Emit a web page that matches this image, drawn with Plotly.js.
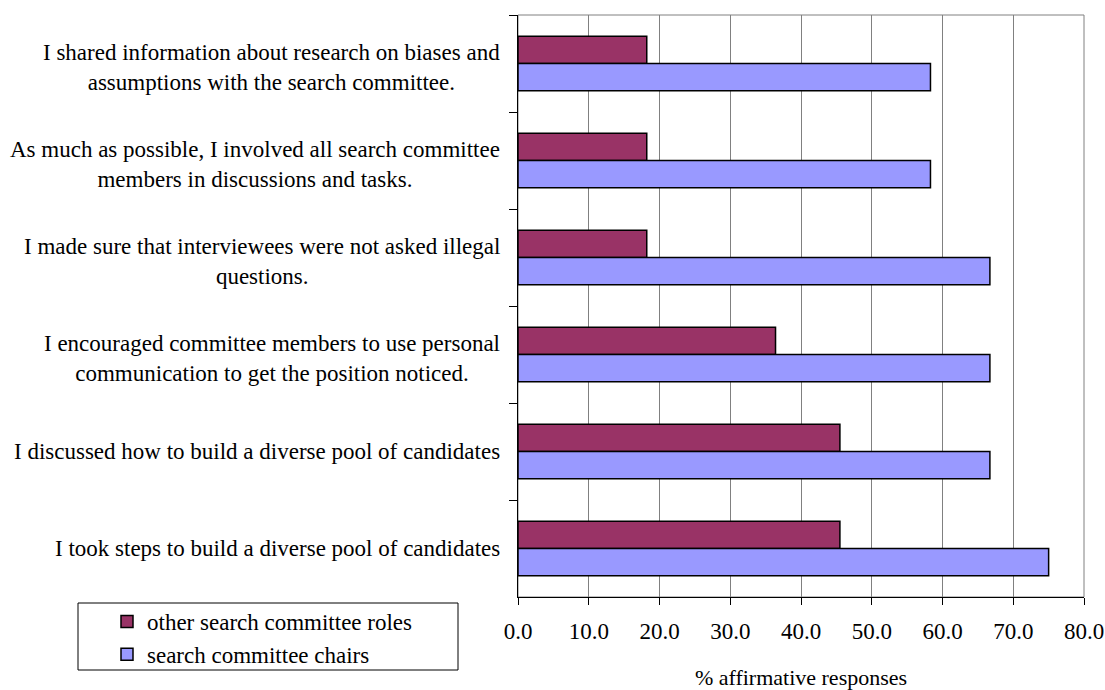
<!DOCTYPE html>
<html>
<head>
<meta charset="utf-8">
<script src="https://cdn.plot.ly/plotly-3.0.1.min.js"></script>
<style>html,body{margin:0;padding:0;background:#fff;}#chart{width:1105px;height:690px;}</style>
</head>
<body>
<div id="chart"></div>
<script>
// Categories, top to bottom
const categories = [
  "I shared information about research on biases and<br>assumptions with the search committee.",
  "As much as possible, I involved all search committee<br>members in discussions and tasks.",
  "I made sure that interviewees were not asked illegal<br>questions.",
  "I encouraged committee members to use personal<br>communication to get the position noticed.",
  "I discussed how to build a diverse pool of candidates",
  "I took steps to build a diverse pool of candidates"
];
const otherRoles = [18.2, 18.2, 18.2, 36.4, 45.5, 45.5];
const chairs = [58.3, 58.3, 66.7, 66.7, 66.7, 75.0];
const seriesNames = ["other search committee roles", "search committee chairs"];
const xTicks = [0, 10, 20, 30, 40, 50, 60, 70, 80];
const xTitle = "% affirmative responses";

const FONT = "'Liberation Serif', 'Times New Roman', serif";
const FS = 23;
const L = 518, R = 1084, T = 15, B = 597, W = 1105, H = 690;
const pw = R - L, ph = B - T;

const traces = [
  {type: "bar", orientation: "h", name: seriesNames[0], y: categories, x: otherRoles,
   marker: {color: "#993366", line: {color: "#000000", width: 1.5}}},
  {type: "bar", orientation: "h", name: seriesNames[1], y: categories, x: chairs,
   marker: {color: "#9999FF", line: {color: "#000000", width: 1.5}}}
];

const annotations = categories.map(c => ({
  xref: "paper", yref: "y", x: (502 - L) / pw, y: c, text: c,
  xanchor: "right", yanchor: "middle", align: "center", showarrow: false,
  yshift: c.indexOf("<br>") >= 0 ? -4 : 0,
  font: {family: FONT, size: FS, color: "#000"}
}));

const layout = {
  width: W, height: H,
  margin: {l: L, r: W - R, t: T, b: H - B, pad: 0},
  paper_bgcolor: "#fff", plot_bgcolor: "#fff",
  font: {family: FONT, size: FS, color: "#000"},
  barmode: "group", bargap: 0.44, bargroupgap: 0,
  showlegend: true,
  legend: {
    xref: "container", yref: "container",
    x: 107 / W, y: 1 - 600 / H, xanchor: "left", yanchor: "top",
    bgcolor: "rgba(0,0,0,0)", borderwidth: 0,
    font: {family: FONT, size: FS, color: "#000"},
    tracegroupgap: 0
  },
  xaxis: {
    range: [0, 80], tickvals: xTicks, tickformat: ".1f", fixedrange: true,
    showline: true, linecolor: "#000", linewidth: 1,
    ticks: "outside", ticklen: 7, tickcolor: "#000", tickwidth: 1,
    ticklabelstandoff: 6,
    showgrid: true, gridcolor: "#808080", gridwidth: 1, zeroline: false,
    tickfont: {family: FONT, size: FS, color: "#000"},
    title: {text: xTitle, font: {family: FONT, size: FS - 1, color: "#000"}, standoff: 27},
    automargin: false
  },
  yaxis: {
    type: "category", autorange: "reversed", fixedrange: true,
    showline: true, linecolor: "#000", linewidth: 1,
    ticks: "outside", ticklen: 8, tickcolor: "#000", tickwidth: 1,
    tickson: "boundaries", showticklabels: false, showgrid: false, zeroline: false,
    automargin: false
  },
  annotations: annotations,
  shapes: [
    {type: "rect", xref: "paper", yref: "paper", x0: 0, x1: 1, y0: 0, y1: 1,
     line: {color: "#808080", width: 1}, layer: "below"},
    {type: "rect", xref: "paper", yref: "paper",
     x0: (78 - L) / pw, x1: (458 - L) / pw, y0: (B - 603) / ph, y1: (B - 670) / ph,
     line: {color: "#000", width: 1}, fillcolor: "rgba(0,0,0,0)"}
  ]
};

Plotly.newPlot("chart", traces, layout, {displayModeBar: false, staticPlot: true});
</script>
</body>
</html>
